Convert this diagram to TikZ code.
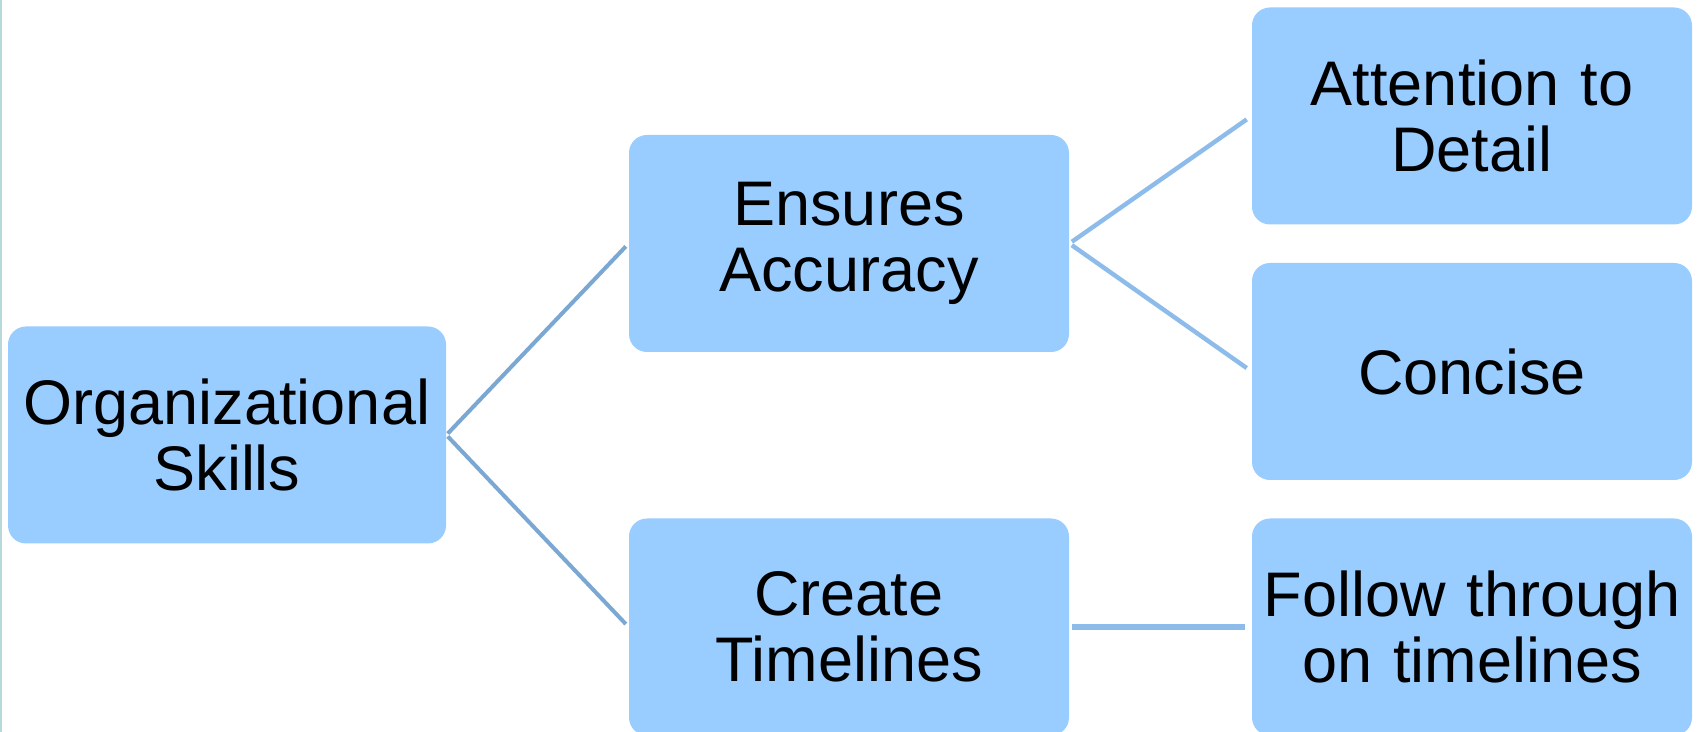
\documentclass[tikz,border=0pt]{standalone}
\usepackage{fontspec}
\setmainfont{Liberation Sans}
\definecolor{boxfill}{HTML}{99CCFF}
\definecolor{linedark}{HTML}{7BA7D3}
\definecolor{linelight}{HTML}{8DBCEB}
\definecolor{edgeline}{HTML}{B8D8DA}
\tikzset{
  px/.style={x=0.5pt,y=-0.5pt},
  tbox/.style={fill=boxfill, draw=none, rounded corners=9pt,
    minimum width=220pt, minimum height=108.5pt, inner sep=0pt,
    align=center, text width=215pt,
    font=\fontsize{31.5pt}{33pt}\selectfont},
  conndark/.style={draw=linedark, line width=2pt, shorten >=2pt, shorten <=1pt},
  connlight/.style={draw=linelight, line width=2.2pt, shorten >=3pt, shorten <=1.5pt},
  connbar/.style={draw=linelight, line width=3pt, shorten >=3.5pt, shorten <=1.5pt}
}
\begin{document}
\begin{tikzpicture}[px]
\useasboundingbox (0,0) rectangle (1698,732);
\fill[white] (0,0) rectangle (1698,732);
\draw[edgeline, line width=1pt] (1,0) -- (1,732);
\begin{scope}
\clip (0,0) rectangle (1698,732);
\node[tbox, minimum width=219pt] (org) at (227,435) {Organizational\\Skills};
\node[tbox] (ens) at (849,243.5) {Ensures\\Accuracy};
\node[tbox] (cre) at (849,627) {Create\\Timelines};
\node[tbox] (att) at (1472,116) {Attention to\\Detail};
\node[tbox] (con) at (1472,371.5) {Concise};
\node[tbox] (fol) at (1472,627) {Follow through\\on timelines};
\end{scope}
\draw[conndark] (org.east) -- (ens.west);
\draw[conndark] (org.east) -- (cre.west);
\draw[connlight] (ens.east) -- (att.west);
\draw[connlight] (ens.east) -- (con.west);
\draw[connbar] (cre.east) -- (fol.west);
\end{tikzpicture}
\end{document}
